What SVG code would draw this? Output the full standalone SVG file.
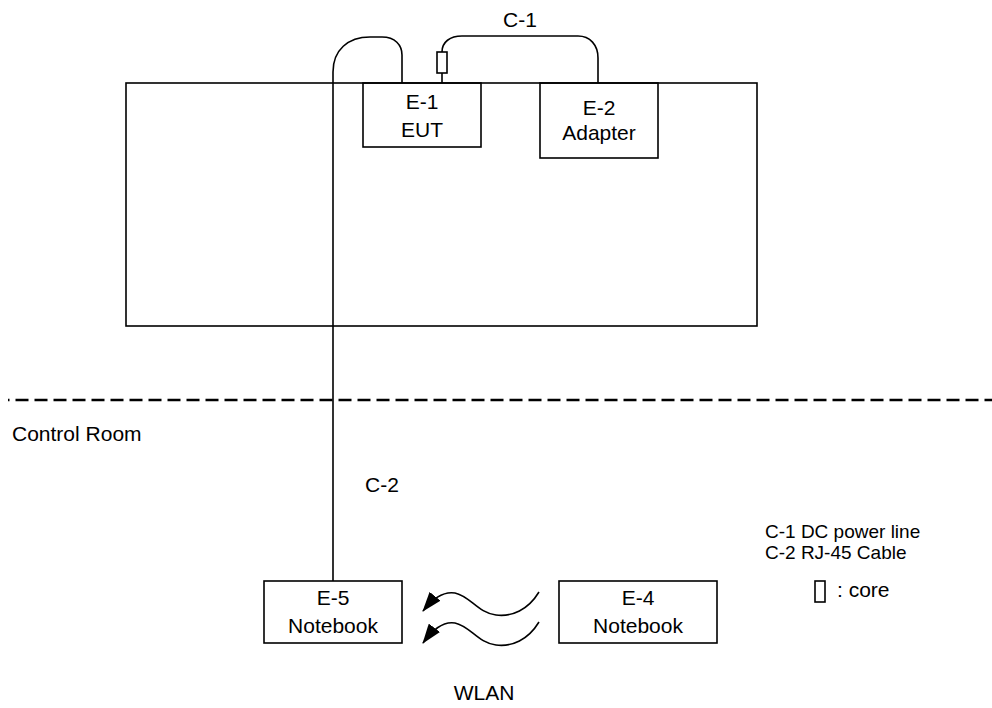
<svg xmlns="http://www.w3.org/2000/svg" width="992" height="708" viewBox="0 0 992 708">
<style>
  .box { fill: none; stroke: #000; stroke-width: 1.6; }
  .wire { fill: none; stroke: #000; stroke-width: 1.6; }
  .t { font-family: "Liberation Sans", Arial, sans-serif; font-size: 21px; fill: #000; }
  .c { text-anchor: middle; }
  .lg { font-size: 19px; }
</style>
<defs>
  <marker id="ah" viewBox="0 0 20 14" refX="19" refY="7" markerWidth="20" markerHeight="14" markerUnits="userSpaceOnUse" orient="auto">
    <path d="M0,0 L20,7 L0,14 Z" fill="#000"/>
  </marker>
</defs>
<rect width="992" height="708" fill="#fff"/>

<g id="room">
  <rect class="box" x="126" y="83" width="631" height="243"/>
</g>

<g id="E-1">
  <rect class="box" x="363" y="83" width="118" height="64" fill="#fff"/>
  <text class="t c" x="422" y="109">E-1</text>
  <text class="t c" x="422" y="137">EUT</text>
</g>
<g id="E-2">
  <rect class="box" x="540" y="83" width="118" height="75" fill="#fff"/>
  <text class="t c" x="599" y="115">E-2</text>
  <text class="t c" x="599" y="140">Adapter</text>
</g>
<g id="E-5">
  <rect class="box" x="264" y="581" width="138" height="62"/>
  <text class="t c" x="333" y="605">E-5</text>
  <text class="t c" x="333" y="633">Notebook</text>
</g>
<g id="E-4">
  <rect class="box" x="559" y="581" width="158" height="62"/>
  <text class="t c" x="638" y="605">E-4</text>
  <text class="t c" x="638" y="633">Notebook</text>
</g>

<g id="connectors">
  <path class="wire" d="M333,581 V72 C333,50 348,37 370,37 H382 C395,37 402,45 402,55 V83"/>
  <path class="wire" d="M442,83 V73 M442,52 C442,42 450,36 462,36 H578 C590,36 598,45 598,58 V83"/>
  <rect class="box" x="437" y="52" width="10" height="21"/>
  <path class="wire" marker-end="url(#ah)" d="M539,592 C528,610 512,617 496,615 C478,613 470,596 455,593 C442,591 432,600 423,611"/>
  <path class="wire" marker-end="url(#ah)" d="M539,622 C528,640 512,647 496,645 C478,643 470,626 455,623 C442,621 432,631 423,643"/>
  <line x1="8" y1="400" x2="992" y2="400" stroke="#000" stroke-width="2.6" stroke-dasharray="13 6" stroke-dashoffset="11.5"/>
</g>

<g id="labels">
  <text class="t" x="503" y="27">C-1</text>
  <text class="t" x="365" y="492">C-2</text>
  <text class="t" x="12" y="441">Control Room</text>
  <text class="t c" x="484" y="700">WLAN</text>
</g>

<g id="legend">
  <text class="t lg" x="765" y="538">C-1 DC power line</text>
  <text class="t lg" x="765" y="559">C-2 RJ-45 Cable</text>
  <rect class="box" x="815" y="581" width="10" height="21"/>
  <text class="t" x="837" y="597">: core</text>
</g>
</svg>
